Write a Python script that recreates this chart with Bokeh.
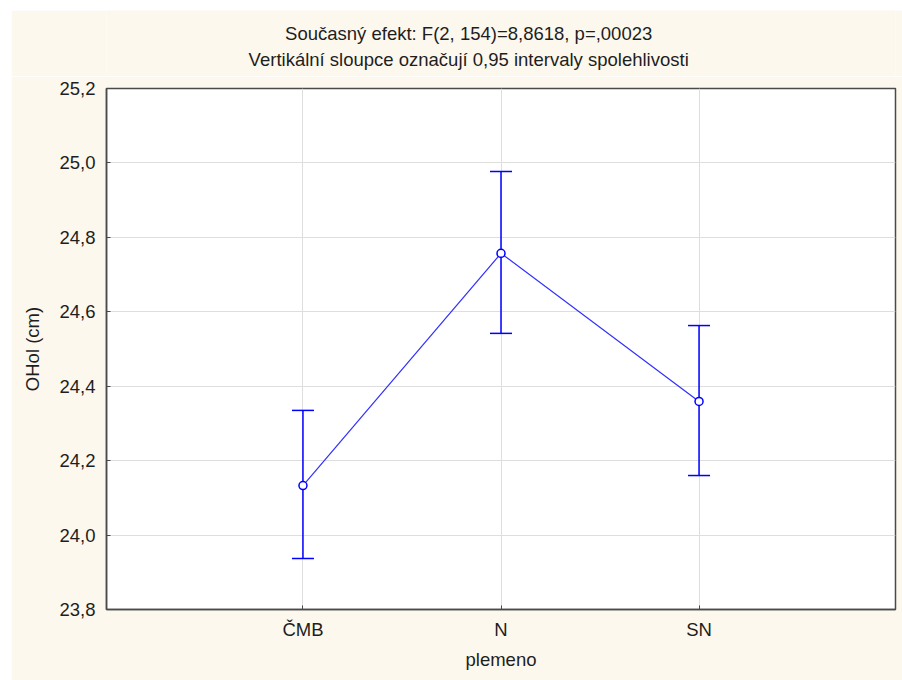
from bokeh.plotting import figure
from bokeh.layouts import column
from bokeh.models import FactorRange, Whisker, ColumnDataSource, TeeHead, Range1d
from bokeh.core.properties import value
from bokeh.embed import file_html
from bokeh.resources import INLINE

categories = ["ČMB", "N", "SN"]
means = [24.133, 24.757, 24.359]
upper = [24.335, 24.977, 24.563]
lower = [23.937, 24.542, 24.160]
y_ticks = [23.8, 24.0, 24.2, 24.4, 24.6, 24.8, 25.0, 25.2]
y_tick_labels = ["23,8", "24,0", "24,2", "24,4", "24,6", "24,8", "25,0", "25,2"]
title_lines = ["Současný efekt: F(2, 154)=8,8618, p=,00023",
               "Vertikální sloupce označují 0,95 intervaly spolehlivosti"]

FONT = "Liberation Sans"
FS = "18.5px"
CREAM = "#FDF8ED"
BLUE = "#0000FF"
TXT = "#1e1e1e"
W = 891
TH = 66  # height of the title strip

# ---- title strip (its own small figure, text placed in pixel units) ----
t = figure(width=W, height=TH, x_range=Range1d(0, W), y_range=Range1d(0, TH),
           x_axis_type=None, y_axis_type=None,
           output_backend="svg", toolbar_location=None,
           min_border=0, min_border_left=0, min_border_right=0,
           min_border_top=0, min_border_bottom=0)
t.grid.visible = False
t.outline_line_color = None
t.background_fill_color = CREAM
t.border_fill_color = CREAM
t.text(x=[409, 409], y=[TH - 22.5, TH - 48.5], text=title_lines,
       text_align="center", text_baseline="middle",
       text_font=value(FONT), text_font_size=FS, text_color=TXT)

# ---- main plot ----
src = ColumnDataSource(dict(x=categories, y=means, upper=upper, lower=lower))

p = figure(
    width=W, height=670 - TH,
    x_range=FactorRange(factors=categories, range_padding=0.328),
    y_range=(23.8, 25.2),
    output_backend="svg", toolbar_location=None,
    min_border_left=95, min_border_right=7, min_border_top=12, min_border_bottom=71,
)
p.border_fill_color = CREAM
p.background_fill_color = "white"
p.outline_line_color = "#4a4a4a"
p.outline_line_width = 1.5

p.xgrid.grid_line_color = "#dedede"
p.ygrid.grid_line_color = "#dedede"
p.xgrid.grid_line_width = 1
p.ygrid.grid_line_width = 1

p.yaxis.ticker = y_ticks
p.yaxis.major_label_overrides = {tk: lb for tk, lb in zip(y_ticks, y_tick_labels)}
for ax in (p.xaxis[0], p.yaxis[0]):
    ax.axis_line_color = "#4a4a4a"
    ax.axis_line_width = 1.5
    ax.major_tick_in = 4
    ax.major_tick_out = 0
    ax.minor_tick_line_color = None
    ax.major_tick_line_color = "#4a4a4a"
    ax.major_label_text_font = FONT
    ax.major_label_text_font_size = FS
    ax.major_label_text_color = TXT
    ax.axis_label_text_font = FONT
    ax.axis_label_text_font_size = FS
    ax.axis_label_text_font_style = "normal"
    ax.axis_label_text_color = TXT
p.xaxis.axis_label = "plemeno"
p.yaxis.axis_label = "OHol (cm)"
p.yaxis.major_label_standoff = 11
p.xaxis.major_label_standoff = 9
p.xaxis.axis_label_standoff = 6
p.yaxis.axis_label_standoff = 13

# error bars
w = Whisker(source=src, base="x", upper="upper", lower="lower",
            line_color=BLUE, line_width=1.5)
w.upper_head = TeeHead(size=22, line_color=BLUE, line_width=1.5)
w.lower_head = TeeHead(size=22, line_color=BLUE, line_width=1.5)
p.add_layout(w)

p.line("x", "y", source=src, line_color="#3030ff", line_width=1.2)
p.scatter("x", "y", source=src, size=8, marker="circle",
          line_color=BLUE, line_width=1.5, fill_color="white")

layout = column(t, p, spacing=0, margin=(10, 0, 0, 11))
open("out.html", "w").write(file_html(layout, INLINE))
